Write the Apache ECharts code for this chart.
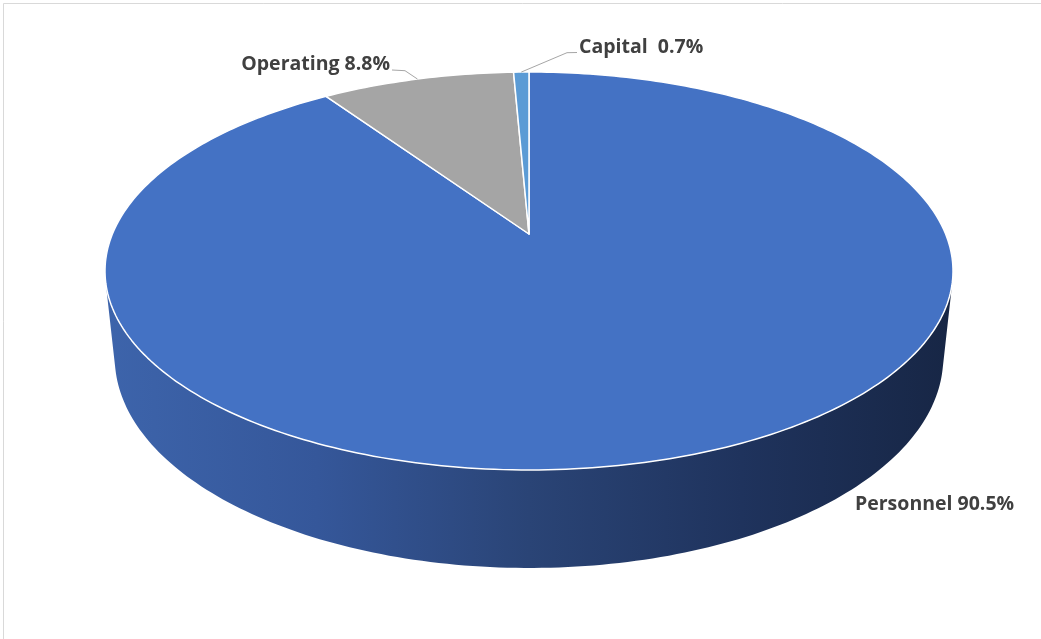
<!DOCTYPE html>
<html>
<head>
<meta charset="utf-8">
<title>Budget by category</title>
<script src="https://cdn.jsdelivr.net/npm/echarts@6/dist/echarts.min.js"></script>
<style>
  html, body { margin: 0; padding: 0; background: #ffffff; }
  #chart { width: 1041px; height: 639px; }
</style>
</head>
<body>
<div id="chart"></div>
<script>
// Budget shares by category (percent)
const categories = ['Personnel', 'Operating', 'Capital'];
const shares = [90.5, 8.8, 0.7];
// text between the category name and its percentage in each label
const labelGaps = [' ', ' ', '  '];

const topColors = ['#4472C4', '#A5A5A5', '#5B9BD5'];
const wallStops = [
  { offset: 0, color: '#3d64ab' },
  { offset: 0.25, color: '#35579a' },
  { offset: 0.5, color: '#2a4476' },
  { offset: 0.75, color: '#1f335d' },
  { offset: 1, color: '#172645' }
];

// Camera for the tilted disc: centre, scale, tilt, distance, thickness
const view = { cx: 529, cy: 234, scale: 416.6, sinT: 0.4611, cosT: 0.8873, dist: 4.77, depth: 0.2364 };

// Label placement: x, text baseline, alignment and leader elbow
const labelLayout = {
  Personnel: { x: 855, base: 510, align: 'left', elbow: null },
  Operating: { x: 390, base: 70, align: 'right', elbow: [405, 70.7] },
  Capital: { x: 579, base: 52.5, align: 'left', elbow: [567, 52.7] }
};
const labelFont = 'bold 19.5px "Open Sans"';
// bottom of the text box sits below the baseline by the descender
const descender = 4.5;

// Project a rim point (angle clockwise from the far side, in degrees) at height z
function project(deg, z) {
  const t = deg * Math.PI / 180;
  const X = Math.sin(t), Y = -Math.cos(t);
  const d = view.dist - Y * view.cosT - z * view.sinT;
  const k = view.scale * view.dist / d;
  return [view.cx + X * k, view.cy + (Y * view.sinT - z * view.cosT) * k];
}

function arcPoints(a0, a1, z) {
  const pts = [];
  const n = Math.max(2, Math.ceil(Math.abs(a1 - a0)));
  for (let i = 0; i <= n; i++) pts.push(project(a0 + (a1 - a0) * i / n, z));
  return pts;
}

const total = shares.reduce((a, b) => a + b, 0);
// wall faces the camera where the rim leans towards it
const wallLimit = Math.acos(-1 / (view.dist * view.cosT)) * 180 / Math.PI;

function renderItem(params, api) {
  const i = params.dataIndex;
  let before = 0;
  for (let j = 0; j < i; j++) before += shares[j];
  const value = api.value(0);
  const a0 = before / total * 360;
  const a1 = (before + value) / total * 360;
  const children = [];

  // side wall
  const lo = Math.max(a0, wallLimit), hi = Math.min(a1, 360 - wallLimit);
  if (hi > lo) {
    const top = arcPoints(lo, hi, 0);
    const bottom = arcPoints(hi, lo, -view.depth);
    children.push({
      type: 'polygon',
      z2: 1,
      shape: { points: top.concat(bottom) },
      style: {
        fill: new echarts.graphic.LinearGradient(105, 0, 953, 0, wallStops, true),
        stroke: null
      }
    });
  }

  // top face
  const face = [[view.cx, view.cy]].concat(arcPoints(a0, a1, 0));
  children.push({
    type: 'polygon',
    z2: 10,
    shape: { points: face },
    style: { fill: topColors[i], stroke: '#ffffff', lineWidth: 1.5, lineJoin: 'round' }
  });

  // label and leader
  const name = categories[i];
  const lay = labelLayout[name];
  const text = name + labelGaps[i] + value.toFixed(1) + '%';
  children.push({
    type: 'text',
    z2: 20,
    style: {
      text: text,
      x: lay.x,
      y: lay.base + descender,
      textAlign: lay.align,
      textVerticalAlign: 'bottom',
      fill: '#404040',
      font: labelFont
    }
  });
  if (lay.elbow) {
    const anchor = project((a0 + a1) / 2, 0);
    children.push({
      type: 'polyline',
      z2: 20,
      shape: { points: [anchor, lay.elbow, [lay.x + (lay.align === 'right' ? 2 : -2), lay.base]] },
      style: { stroke: '#a6a6a6', lineWidth: 1, fill: null }
    });
  }
  return { type: 'group', children: children };
}

const chart = echarts.init(document.getElementById('chart'), null, { renderer: 'canvas' });
chart.setOption({
  backgroundColor: '#ffffff',
  animation: false,
  graphic: [{
    type: 'rect',
    shape: { x: 3.5, y: 3.5, width: 1100, height: 700 },
    style: { fill: null, stroke: '#d9d9d9', lineWidth: 1 },
    silent: true
  }],
  series: [{
    type: 'custom',
    coordinateSystem: 'none',
    renderItem: renderItem,
    data: shares.map((v, i) => ({ name: categories[i], value: [v] }))
  }]
});
</script>
</body>
</html>
